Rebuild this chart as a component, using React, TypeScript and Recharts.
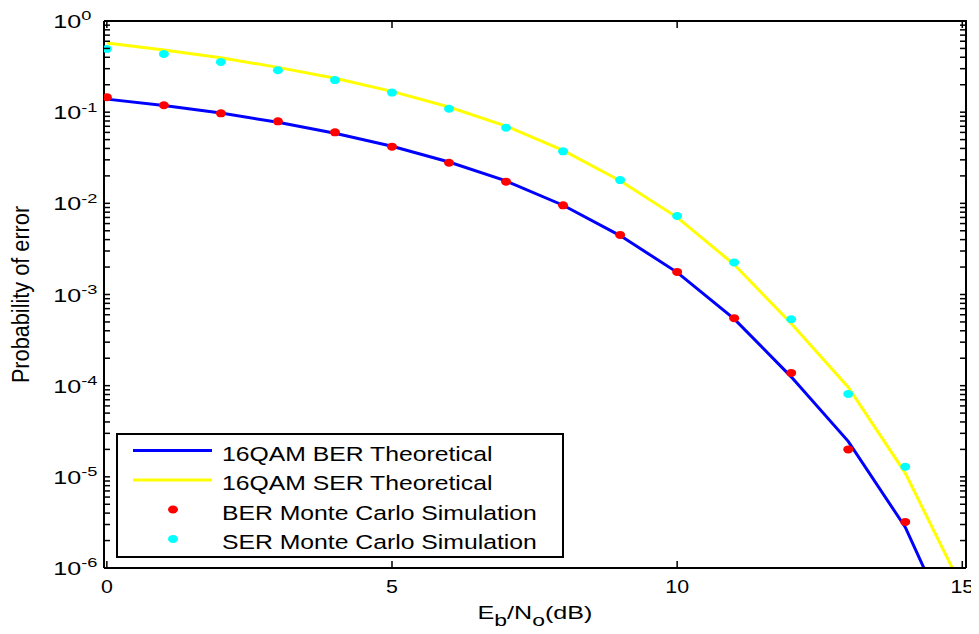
import { ComposedChart, Line, Scatter, XAxis, YAxis, Legend } from "recharts";

// Eb/No points (dB) and values
const snrDb = [0, 1, 2, 3, 4, 5, 6, 7, 8, 9, 10, 11, 12, 13, 14, 15];
const berTheory = [
  0.139, 0.118, 0.0977, 0.0775, 0.0587, 0.0423, 0.0284, 0.0176, 0.00953, 0.00443,
  0.00175, 5.4e-4, 1.25e-4, 2.45e-5, 2.8e-6, 1.2e-7,
];
const serTheory = [
  0.574, 0.48, 0.395, 0.31, 0.235, 0.169, 0.114, 0.0704, 0.0381, 0.0177,
  0.00702, 0.00213, 4.8e-4, 9.6e-5, 1.1e-5, 6e-7,
];

const simSnrDb = [0, 1, 2, 3, 4, 5, 6, 7, 8, 9, 10, 11, 12, 13, 14];
const berSim = [
  0.146, 0.119, 0.097, 0.0794, 0.0601, 0.0418, 0.0279, 0.0173, 0.0095, 0.0045,
  0.00177, 5.5e-4, 1.38e-4, 2.0e-5, 3.2e-6,
];
const serSim = [
  0.493, 0.435, 0.355, 0.288, 0.225, 0.164, 0.109, 0.0675, 0.0372, 0.018,
  0.00726, 0.00225, 5.35e-4, 8.1e-5, 1.29e-5,
];

const xTicks = [0, 5, 10, 15];
const xDomain = [-0.05, 15.065];
const yDecades = [1e-6, 1e-5, 1e-4, 1e-3, 1e-2, 1e-1, 1];
const yMinorSteps = [2, 3, 4, 5, 6, 7, 8, 9];

const FONT = '"Liberation Sans", Arial, Helvetica, sans-serif';

// layout
const CHART_W = 971;
const CHART_H = 626;
const MARGIN = { top: 13, right: 13, bottom: 0, left: 0 };
const Y_AXIS_W = 96;
const X_AXIS_H = 66;
const PLOT_W = CHART_W - MARGIN.left - MARGIN.right - Y_AXIS_W;
const PLOT_H = CHART_H - MARGIN.top - MARGIN.bottom - X_AXIS_H;

const curveData = snrDb.map((snr, i) => ({ snr, ber: berTheory[i], ser: serTheory[i] }));
const berSimData = simSnrDb.map((snr, i) => ({ snr, value: berSim[i] }));
const serSimData = simSnrDb.map((snr, i) => ({ snr, value: serSim[i] }));

const yTicks = [
  ...yDecades,
  ...yDecades.slice(0, -1).flatMap((d) => yMinorSteps.map((m) => m * d)),
].sort((a, b) => a - b);

const isDecade = (v: number) => Math.abs(Math.log10(v) - Math.round(Math.log10(v))) < 1e-6;

// left axis tick: inward ticks on both sides of the box, label on decades,
// and the top/right box edges drawn from the top tick
function LeftTick({ x, y, payload }: any) {
  const v = payload.value as number;
  const right = x + PLOT_W;
  const isTop = Math.abs(v - 1) < 1e-9;
  return (
    <g>
      <line x1={x} x2={x + 6} y1={y} y2={y} stroke="#000" strokeWidth={1.5} />
      <line x1={right - 6} x2={right} y1={y} y2={y} stroke="#000" strokeWidth={1.5} />
      {isTop && (
        <>
          <line x1={x} x2={right + 1} y1={y} y2={y} stroke="#000" strokeWidth={2} />
          <line x1={right} x2={right} y1={y} y2={y + PLOT_H} stroke="#000" strokeWidth={2} />
        </>
      )}
      {isDecade(v) && (
        <text
          transform={`translate(${x - 50.7},${y + 7}) scale(1.35,1)`}
          fontFamily={FONT}
          fontSize={18.6}
          fill="#000"
        >
          10
          <tspan dy={-7.6} fontSize={13.5}>
            {`${Math.round(Math.log10(v))}`}
          </tspan>
        </text>
      )}
    </g>
  );
}

function BottomTick({ x, y, payload }: any) {
  const top = y - PLOT_H;
  return (
    <g>
      <line x1={x} x2={x} y1={y} y2={y - 7} stroke="#000" strokeWidth={1.5} />
      <line x1={x} x2={x} y1={top} y2={top + 7} stroke="#000" strokeWidth={1.5} />
      <text
        transform={`translate(${x},${y + 25.3}) scale(1.15,1)`}
        textAnchor="middle"
        fontFamily={FONT}
        fontSize={18.6}
        fill="#000"
      >
        {payload.value}
      </text>
    </g>
  );
}

function XTitle({ viewBox }: any) {
  const cx = viewBox.x + viewBox.width / 2;
  const by = viewBox.y + 51.3;
  return (
    <text
      transform={`translate(${cx},${by}) scale(1.35,1)`}
      textAnchor="middle"
      fontFamily={FONT}
      fontSize={18.6}
      fill="#000"
    >
      E<tspan dy={7} fontSize={17}>b</tspan>
      <tspan dy={-7}>/N</tspan>
      <tspan dy={7} fontSize={17}>o</tspan>
      <tspan dy={-7}>(dB)</tspan>
    </text>
  );
}

function YTitle({ viewBox }: any) {
  const cy = viewBox.y + viewBox.height / 2;
  return (
    <text
      transform={`translate(21.3,${cy}) rotate(-90) scale(1,1.08)`}
      textAnchor="middle"
      fontFamily={FONT}
      fontSize={21.7}
      fill="#000"
    >
      Probability of error
    </text>
  );
}

function LegendBox({ payload }: any) {
  const rows = (payload ?? []).filter((e: any) => e.type !== "none");
  return (
    <svg width={448} height={126} style={{ display: "block" }}>
      <rect x={1} y={1} width={446} height={123} fill="#fff" stroke="#000" strokeWidth={2} />
      {rows.map((e: any, i: number) => {
        const cy = 17.5 + i * 29.5;
        return (
          <g key={i}>
            {e.type === "line" ? (
              <line x1={17} x2={96} y1={cy} y2={cy} stroke={e.color} strokeWidth={3} />
            ) : (
              <ellipse cx={57} cy={cy} rx={5} ry={4} fill={e.color} />
            )}
            <text
              transform={`translate(106,${cy + 10.3}) scale(1.27,1)`}
              fontFamily={FONT}
              fontSize={19.5}
              fill="#000"
            >
              {e.value}
            </text>
          </g>
        );
      })}
    </svg>
  );
}

const ellipseDot = (color: string) => (p: any) =>
  <ellipse cx={p.cx} cy={p.cy} rx={5} ry={4} fill={color} />;

export default function App() {
  // wrapper height keeps the page at 634px so no scrollbar appears
  return (
    <div style={{ height: 618 }}>
      <ComposedChart
        width={CHART_W}
        height={CHART_H}
        data={curveData}
        margin={MARGIN}
        style={{ overflow: "visible" }}
      >
        <XAxis
          xAxisId="b"
          dataKey="snr"
          type="number"
          domain={xDomain}
          allowDataOverflow
          ticks={xTicks}
          interval={0}
          height={X_AXIS_H}
          tickSize={0}
          tickMargin={0}
          tickLine={false}
          axisLine={{ stroke: "#000", strokeWidth: 2 }}
          tick={<BottomTick />}
          label={<XTitle />}
        />
        <YAxis
          yAxisId="l"
          scale="log"
          type="number"
          domain={[1e-6, 1]}
          allowDataOverflow
          ticks={yTicks}
          interval={0}
          width={Y_AXIS_W}
          tickSize={0}
          tickMargin={0}
          tickLine={false}
          axisLine={{ stroke: "#000", strokeWidth: 2 }}
          tick={<LeftTick />}
          label={<YTitle />}
        />
        <Line
          xAxisId="b"
          yAxisId="l"
          type="linear"
          dataKey="ber"
          name="16QAM BER Theoretical"
          stroke="#0000FF"
          strokeWidth={3}
          dot={false}
          activeDot={false}
          legendType="line"
          isAnimationActive={false}
        />
        <Line
          xAxisId="b"
          yAxisId="l"
          type="linear"
          dataKey="ser"
          name="16QAM SER Theoretical"
          stroke="#FFFF00"
          strokeWidth={3}
          dot={false}
          activeDot={false}
          legendType="line"
          isAnimationActive={false}
        />
        <Scatter
          xAxisId="b"
          yAxisId="l"
          data={berSimData}
          dataKey="value"
          name="BER Monte Carlo Simulation"
          fill="#FF0000"
          legendType="circle"
          shape={ellipseDot("#FF0000")}
          isAnimationActive={false}
        />
        <Scatter
          xAxisId="b"
          yAxisId="l"
          data={serSimData}
          dataKey="value"
          name="SER Monte Carlo Simulation"
          fill="#00FFFF"
          legendType="circle"
          shape={ellipseDot("#00FFFF")}
          isAnimationActive={false}
        />
        <Legend
          layout="vertical"
          align="center"
          verticalAlign="middle"
          content={<LegendBox />}
          wrapperStyle={{ left: 108, top: 425, width: 448, height: 126 }}
        />
      </ComposedChart>
    </div>
  );
}
